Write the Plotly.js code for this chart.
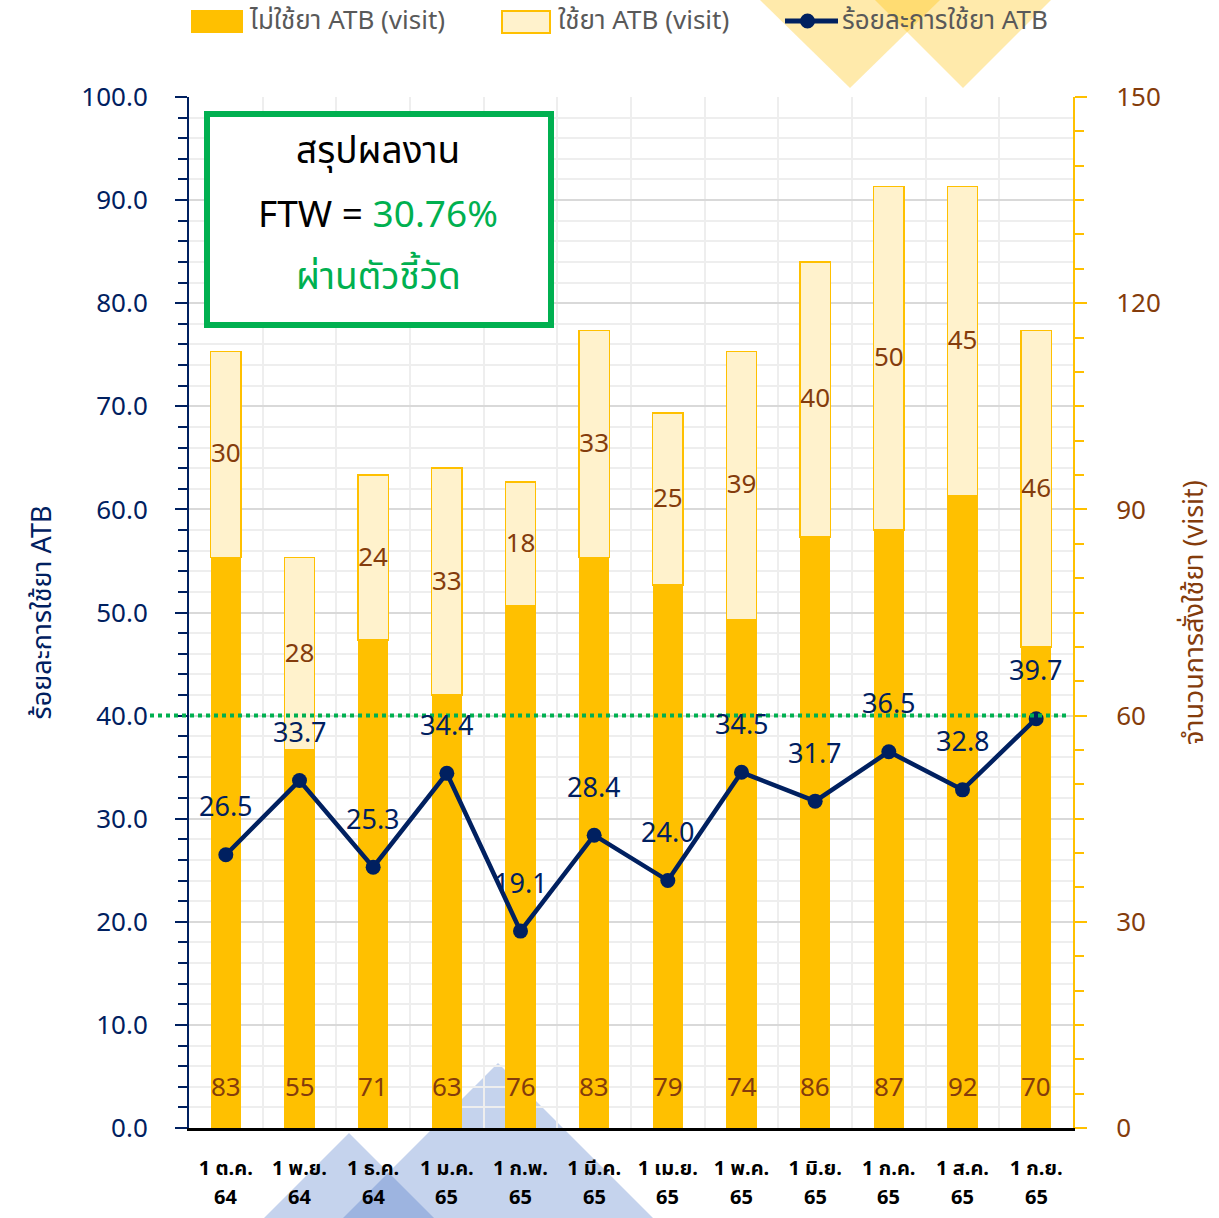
<!DOCTYPE html>
<html>
<head>
<meta charset="utf-8">
<script src="https://cdn.plot.ly/plotly-3.0.1.min.js"></script>
<style>html,body{margin:0;padding:0;background:#fff;}#chart{width:1219px;height:1218px;}</style>
</head>
<body>
<div id="chart"></div>
<script>
const months = ['1 ต.ค.','1 พ.ย.','1 ธ.ค.','1 ม.ค.','1 ก.พ.','1 มี.ค.','1 เม.ย.','1 พ.ค.','1 มิ.ย.','1 ก.ค.','1 ส.ค.','1 ก.ย.'];
const years = ['64','64','64','65','65','65','65','65','65','65','65','65'];
const noAtb = [83,55,71,63,76,83,79,74,86,87,92,70];
const useAtb = [30,28,24,33,18,33,25,39,40,50,45,46];
const pctAtb = [26.5,33.7,25.3,34.4,19.1,28.4,24.0,34.5,31.7,36.5,32.8,39.7];
const leftTicks = [0,10,20,30,40,50,60,70,80,90,100];
const rightTicks = [0,30,60,90,120,150];
const seriesNames = ['ไม่ใช้ยา ATB (visit)','ใช้ยา ATB (visit)','ร้อยละการใช้ยา ATB'];
const targetPct = 40;

const FONT = 'Noto Sans Thai, Noto Sans, DejaVu Sans, sans-serif';
const xs = months.map((_, i) => i);

// pixel helpers for paper coords (plot area 189..1073 x, 97..1128 y)
const PL = 189, PR = 1073, PT = 97, PB = 1128;
const px = X => (X - PL) / (PR - PL);
const py = Y => (PB - Y) / (PB - PT);

const traces = [
  {type:'bar', name:seriesNames[0], x:xs, y:noAtb, yaxis:'y', width:0.41,
   marker:{color:'#FFC000', line:{color:'#FFC000', width:0}}, hoverinfo:'skip'},
  {type:'bar', name:seriesNames[1], x:xs, y:useAtb, yaxis:'y', width:0.41,
   marker:{color:'#FFF2CC', line:{color:'#FFC000', width:1.5}},
   text:useAtb.map(String), textposition:'inside', insidetextanchor:'middle',
   textfont:{family:FONT, size:26, color:'#843C0C'}, hoverinfo:'skip'},
  {type:'scatter', mode:'lines+markers', name:seriesNames[2], x:xs, y:pctAtb, yaxis:'y2',
   line:{color:'#002060', width:4.5}, marker:{color:'#002060', size:15}, hoverinfo:'skip'}
];

const annotations = [];
xs.forEach(i => {
  annotations.push({x:i, y:0, xref:'x', yref:'y', text:String(noAtb[i]), showarrow:false,
    yshift:40, font:{family:FONT, size:26, color:'#843C0C'}});
  annotations.push({x:i, y:pctAtb[i], xref:'x', yref:'y2', text:pctAtb[i].toFixed(1), showarrow:false,
    yshift:47, font:{family:FONT, size:27, color:'#002060'}});
  annotations.push({x:i, y:py(1198), xref:'x', yref:'paper', yanchor:'middle', text:years[i], showarrow:false,
    font:{family:FONT, size:20, color:'#000', weight:'bold'}});
});
annotations.push({x:px(378), y:py(152), xref:'paper', yref:'paper', xanchor:'center', yanchor:'middle', text:'สรุปผลงาน', showarrow:false,
  font:{family:FONT, size:37, color:'#000'}});
annotations.push({x:px(378), y:py(216), xref:'paper', yref:'paper', xanchor:'center', yanchor:'middle', text:'FTW = <span style="color:#00B050">30.76%</span>', showarrow:false,
  font:{family:FONT, size:37, color:'#000'}});
annotations.push({x:px(378), y:py(278), xref:'paper', yref:'paper', xanchor:'center', yanchor:'middle', text:'ผ่านตัวชี้วัด', showarrow:false,
  font:{family:FONT, size:37, color:'#00B050'}});
// legend texts
[[247, seriesNames[0]], [556, seriesNames[1]], [840, seriesNames[2]]].forEach(([X, t]) => {
  annotations.push({x:px(X), y:py(21), xref:'paper', yref:'paper', xanchor:'left', yanchor:'middle', text:t,
    showarrow:false, font:{family:FONT, size:26, color:'#595959'}});
});

const shapes = [
  // decorative triangles
  {type:'path', xref:'paper', yref:'paper', layer:'below', line:{width:0}, fillcolor:'rgba(255,192,0,0.33)',
   path:`M ${px(760)} ${py(0)} L ${px(940)} ${py(0)} L ${px(850)} ${py(88)} Z`},
  {type:'path', xref:'paper', yref:'paper', layer:'below', line:{width:0}, fillcolor:'rgba(255,192,0,0.33)',
   path:`M ${px(875)} ${py(0)} L ${px(1051)} ${py(0)} L ${px(963)} ${py(88)} Z`},
  {type:'path', xref:'paper', yref:'paper', layer:'below', line:{width:0}, fillcolor:'rgba(68,114,196,0.31)',
   path:`M ${px(343)} ${py(1218)} L ${px(653)} ${py(1218)} L ${px(498)} ${py(1063)} Z`},
  {type:'path', xref:'paper', yref:'paper', layer:'below', line:{width:0}, fillcolor:'rgba(68,114,196,0.31)',
   path:`M ${px(264)} ${py(1218)} L ${px(434)} ${py(1218)} L ${px(349)} ${py(1133)} Z`},
  // target line
  {type:'line', xref:'paper', yref:'y2', x0:px(150), x1:px(1070), y0:targetPct, y1:targetPct, layer:'above',
   line:{color:'#00B050', width:4, dash:'dot'}},
  // summary box
  {type:'rect', xref:'paper', yref:'paper', x0:px(207), x1:px(551), y0:py(114), y1:py(325), layer:'above',
   fillcolor:'#FFFFFF', line:{color:'#00B050', width:6}},
  // legend symbols
  {type:'rect', xref:'paper', yref:'paper', x0:px(191), x1:px(243), y0:py(33), y1:py(10), layer:'above',
   fillcolor:'#FFC000', line:{width:0}},
  {type:'rect', xref:'paper', yref:'paper', x0:px(502), x1:px(550), y0:py(33), y1:py(11), layer:'above',
   fillcolor:'#FFF2CC', line:{color:'#FFC000', width:2}},
  {type:'line', xref:'paper', yref:'paper', x0:px(785), x1:px(838), y0:py(21), y1:py(21), layer:'above',
   line:{color:'#002060', width:5}},
  {type:'circle', xref:'paper', yref:'paper', x0:px(800), x1:px(815), y0:py(28.5), y1:py(13.5), layer:'above',
   fillcolor:'#002060', line:{width:0}}
];

const layout = {
  width:1219, height:1218,
  margin:{l:PL, r:1219-PR, t:PT, b:1218-PB},
  paper_bgcolor:'#FFFFFF', plot_bgcolor:'rgba(0,0,0,0)',
  font:{family:FONT},
  barmode:'stack', bargap:0,
  uniformtext:{mode:'show', minsize:26},
  showlegend:false,
  xaxis:{type:'linear', range:[-0.5, 11.5], tickmode:'array', tickvals:xs, ticktext:months,
    tickfont:{family:FONT, size:20, color:'#000', weight:'bold'}, showgrid:false, zeroline:false,
    showline:true, linecolor:'#000', linewidth:3, ticks:'', ticklabelstandoff:20,
    minor:{tickmode:'linear', tick0:-0.5, dtick:1, showgrid:true, gridcolor:'#EEEEEE', gridwidth:2, ticks:''}},
  yaxis:{range:[0,150], side:'right', tickmode:'array', tickvals:rightTicks, showgrid:false, zeroline:false,
    showline:true, linecolor:'#FFC000', linewidth:2, ticks:'outside', ticklen:12, tickwidth:2, tickcolor:'#FFC000',
    minor:{dtick:5, ticks:'outside', ticklen:9, tickwidth:2, tickcolor:'#FFC000', showgrid:false},
    tickfont:{family:FONT, size:26, color:'#843C0C'}, ticklabelstandoff:24,
    title:{text:'จำนวนการสั่งใช้ยา (visit)', font:{family:FONT, size:27, color:'#843C0C'}, standoff:24}},
  yaxis2:{range:[0,100], overlaying:'y', side:'left', tickmode:'array', tickvals:leftTicks, tickformat:'.1f',
    showgrid:true, gridcolor:'#D9D9D9', gridwidth:2, zeroline:false,
    showline:true, linecolor:'#002060', linewidth:2, ticks:'outside', ticklen:12, tickwidth:2, tickcolor:'#002060',
    minor:{dtick:2, ticks:'outside', ticklen:9, tickwidth:2, tickcolor:'#002060', showgrid:true, gridcolor:'#EEEEEE', gridwidth:2},
    tickfont:{family:FONT, size:26, color:'#002060'}, ticklabelstandoff:22,
    title:{text:'ร้อยละการใช้ยา ATB', font:{family:FONT, size:27, color:'#002060'}, standoff:22}},
  annotations:annotations,
  shapes:shapes
};

Plotly.newPlot('chart', traces, layout, {displayModeBar:false, staticPlot:true});
</script>
</body>
</html>
